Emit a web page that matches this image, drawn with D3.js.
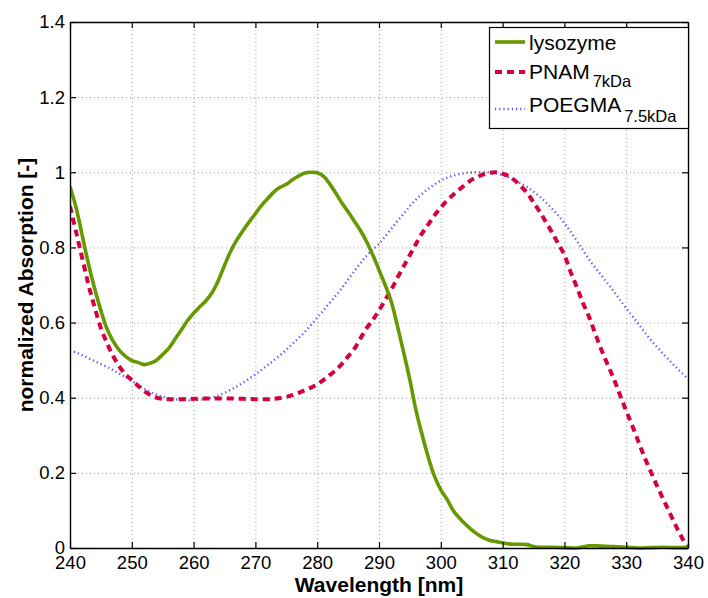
<!DOCTYPE html>
<html>
<head>
<meta charset="utf-8">
<script src="https://cdn.jsdelivr.net/npm/d3@7"></script>
<style>
  html, body { margin: 0; padding: 0; background: #fff; }
  svg { display: block; font-family: "Liberation Sans", Arial, Helvetica, sans-serif; }
</style>
</head>
<body>
<svg id="chart" width="708" height="598"></svg>
<script>
// Normalized UV absorption spectra (wavelength in nm)
const lysozymeNm = [240,241,242,243,244,245,246,247,248,249,250,251,252,253,254,255,256,257,258,259,260,261,262,263,264,265,266,267,268,269,270,271,272,273,274,275,276,277,278,279,280,281,282,283,284,285,286,287,288,289,290,291,292,293,294,295,296,297,298,299,300,301,302,303,304,305,306,307,308,309,310,311,312,313,314,315,316,318,320,322,323,324,326,328,330,332,334,336,338,340];
const lysozyme = [0.962,0.905,0.83,0.755,0.69,0.632,0.583,0.55,0.526,0.51,0.499,0.494,0.488,0.492,0.5,0.515,0.532,0.556,0.58,0.605,0.625,0.642,0.658,0.68,0.712,0.752,0.79,0.82,0.845,0.868,0.89,0.912,0.93,0.948,0.96,0.968,0.98,0.99,0.998,1.0,0.999,0.99,0.97,0.945,0.918,0.895,0.87,0.845,0.815,0.78,0.74,0.7,0.655,0.59,0.52,0.447,0.365,0.3,0.24,0.19,0.155,0.13,0.1,0.08,0.063,0.048,0.036,0.026,0.02,0.017,0.014,0.011,0.01,0.01,0.009,0.004,0.002,0.002,0.001,0.0,0.003,0.006,0.005,0.004,0.002,0.0,0.001,0.002,0.001,0.001];

const pnamNm = [240,241,242,243,244,245,246,247,248,249,250,251,252,253,254,255,256,258,260,262,264,266,268,270,272,273,274,275,276,277,278,279,280,281,282,283,284,285,286,287,288,289,290,291,292,293,294,295,296,297,298,299,300,301,302,303,304,305,306,307,308,309,310,311,312,313,314,315,316,317,318,319,320,321,322,323,324,325,326,327,328,329,330,331,332,333,334,335,336,337,338,339,340];
const pnam = [0.91,0.84,0.77,0.7,0.64,0.585,0.545,0.51,0.483,0.462,0.447,0.432,0.418,0.407,0.4,0.397,0.396,0.396,0.397,0.398,0.398,0.398,0.397,0.396,0.396,0.397,0.399,0.402,0.407,0.413,0.42,0.427,0.435,0.447,0.46,0.473,0.49,0.51,0.53,0.558,0.585,0.607,0.632,0.66,0.688,0.72,0.75,0.78,0.81,0.838,0.862,0.886,0.906,0.925,0.94,0.954,0.968,0.98,0.988,0.995,0.999,1.0,0.996,0.99,0.978,0.962,0.945,0.92,0.895,0.868,0.84,0.81,0.78,0.735,0.695,0.652,0.615,0.57,0.527,0.488,0.45,0.407,0.365,0.325,0.282,0.24,0.202,0.165,0.13,0.095,0.06,0.028,0.0];

const poegmaNm = [240,242,244,246,248,250,252,254,256,258,260,262,264,266,268,270,272,274,276,278,280,282,284,286,288,290,292,294,296,298,300,302,304,306,308,310,312,314,316,318,320,322,324,326,328,330,332,334,336,338,340];
const poegma = [0.527,0.513,0.497,0.482,0.464,0.445,0.424,0.408,0.399,0.394,0.393,0.397,0.406,0.421,0.44,0.462,0.487,0.513,0.543,0.575,0.613,0.652,0.692,0.737,0.778,0.81,0.85,0.89,0.928,0.956,0.978,0.991,0.998,1.0,0.999,0.993,0.978,0.96,0.935,0.903,0.865,0.818,0.768,0.725,0.683,0.638,0.596,0.553,0.517,0.482,0.45];

const xTicks = [240,250,260,270,280,290,300,310,320,330,340];
const yTicks = [0,0.2,0.4,0.6,0.8,1,1.2,1.4];
const yTickLabels = ["0","0.2","0.4","0.6","0.8","1","1.2","1.4"];

const series = [
  { name: "lysozyme", sub: "", nm: lysozymeNm, values: lysozyme, color: "#669900", width: 3.6, dash: null },
  { name: "PNAM", sub: "7kDa", nm: pnamNm, values: pnam, color: "#d6003c", width: 4, dash: "7,5" },
  { name: "POEGMA", sub: "7.5kDa", nm: poegmaNm, values: poegma, color: "#5252ff", width: 2.4, dash: "1.2,3" }
];

const svg = d3.select("#chart");
const plotLeft = 70, plotRight = 688, plotTop = 22, plotBottom = 548;

const x = d3.scaleLinear().domain([240, 340]).range([plotLeft, plotRight]);
const y = d3.scaleLinear().domain([0, 1.4]).range([plotBottom, plotTop]);

// dotted grid
const grid = svg.append("g").attr("stroke", "#9a9a9a").attr("stroke-width", 1).attr("stroke-dasharray", "1,3");
grid.selectAll("line.gx").data(xTicks.slice(1, -1)).join("line")
  .attr("x1", d => x(d) + 0.5).attr("x2", d => x(d) + 0.5)
  .attr("y1", plotTop).attr("y2", plotBottom);
grid.selectAll("line.gy").data(yTicks.slice(1, -1)).join("line")
  .attr("x1", plotLeft).attr("x2", plotRight)
  .attr("y1", d => y(d) + 0.5).attr("y2", d => y(d) + 0.5);

// spectra
svg.append("clipPath").attr("id", "clip").append("rect")
  .attr("x", plotLeft).attr("y", plotTop - 2).attr("width", plotRight - plotLeft + 1).attr("height", plotBottom - plotTop + 4);
const plot = svg.append("g").attr("clip-path", "url(#clip)");

const line = d3.line().curve(d3.curveCatmullRom.alpha(0.5));
// draw in reverse so lysozyme sits on top
series.slice().reverse().forEach(s => {
  const pts = s.nm.map((w, i) => [x(w), y(s.values[i])]);
  plot.append("path")
    .attr("d", line(pts))
    .attr("fill", "none")
    .attr("stroke", s.color)
    .attr("stroke-width", s.width)
    .attr("stroke-linejoin", "round")
    .attr("stroke-dasharray", s.dash);
});

// axes with inward ticks on all four sides
const tickFont = "18.5px";
const xAxis = d3.axisBottom(x).tickValues(xTicks).tickFormat(d3.format("d")).tickSizeInner(-6).tickSizeOuter(0).tickPadding(8);
const yAxis = d3.axisLeft(y).tickValues(yTicks).tickFormat((d, i) => yTickLabels[i]).tickSizeInner(-6).tickSizeOuter(0).tickPadding(5);
const xTop = d3.axisTop(x).tickValues(xTicks).tickFormat("").tickSizeInner(-6).tickSizeOuter(0);
const yRight = d3.axisRight(y).tickValues(yTicks).tickFormat("").tickSizeInner(-6).tickSizeOuter(0);

function styleAxis(g) {
  g.select(".domain").attr("stroke", "#000").attr("stroke-width", 1.4);
  g.selectAll(".tick line").attr("stroke", "#000").attr("stroke-width", 1.2);
  g.selectAll(".tick text").attr("fill", "#000").style("font-size", tickFont)
    .style("font-family", "'Liberation Sans', Arial, sans-serif");
}

svg.append("g").attr("transform", `translate(0,${plotBottom})`).call(xAxis).call(styleAxis);
svg.append("g").attr("transform", `translate(${plotLeft},0)`).call(yAxis).call(styleAxis);
svg.append("g").attr("transform", `translate(0,${plotTop})`).call(xTop).call(styleAxis);
svg.append("g").attr("transform", `translate(${plotRight},0)`).call(yRight).call(styleAxis);

// axis titles
svg.append("text")
  .attr("x", (plotLeft + plotRight) / 2).attr("y", 592)
  .attr("text-anchor", "middle")
  .style("font-size", "21px").style("font-weight", "bold")
  .text("Wavelength [nm]");
svg.append("text")
  .attr("transform", "translate(33,285) rotate(-90)")
  .attr("text-anchor", "middle")
  .style("font-size", "21px").style("font-weight", "bold")
  .text("normalized Absorption [-]");

// legend
const legend = svg.append("g");
legend.append("rect")
  .attr("x", 489.5).attr("y", 27.5).attr("width", 199).attr("height", 101)
  .attr("fill", "#fff").attr("stroke", "#000").attr("stroke-width", 1.2);

const legendRows = [
  { lineY: 42, base: 49.5, subDy: 0 },
  { lineY: 72, base: 79, subDy: 8 },
  { lineY: 109, base: 112, subDy: 10 }
];
series.forEach((s, i) => {
  const r = legendRows[i];
  legend.append("line")
    .attr("x1", 495).attr("x2", 525).attr("y1", r.lineY).attr("y2", r.lineY)
    .attr("stroke", s.color).attr("stroke-width", s.width)
    .attr("stroke-dasharray", s.dash);
  const t = legend.append("text").attr("x", 529).attr("y", r.base).style("font-size", "21px");
  t.append("tspan").text(s.name);
  if (s.sub) {
    t.append("tspan").attr("dx", 3).attr("dy", r.subDy).style("font-size", "16.5px").text(s.sub);
  }
});
</script>
</body>
</html>
